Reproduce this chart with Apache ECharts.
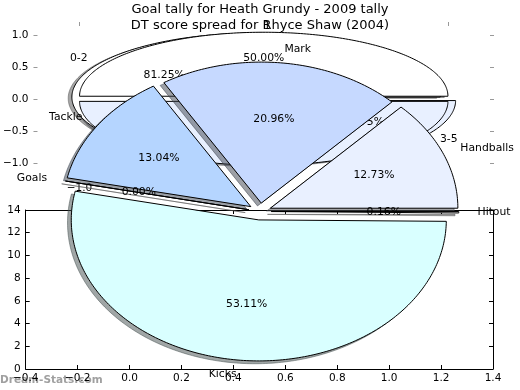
<!DOCTYPE html>
<html><head><meta charset="utf-8">
<script src="https://cdn.jsdelivr.net/npm/echarts@6/dist/echarts.min.js"></script>
<style>html,body{margin:0;padding:0;background:#fff}#c{width:520px;height:390px}</style>
</head><body><div id="c"></div>
<script>
// ---- data ----
const titleTop = 'Goal tally for Heath Grundy - 2009 tally';
const titleBottom = 'DT score spread for Rhyce Shaw (2004)';
const goalLabels = ['0-2', '3-5'];
const goalValues = [81.25, 18.75];
const tallyLabels = ['1', '2'];
const tallyValues = [50, 50];
const dtLabels = ['Handballs', 'Mark', 'Tackle', 'Goals', 'Kicks', 'Hitout'];
const dtValues = [12.73, 20.96, 13.04, 0.00, 53.11, 0.16];
const topTicks = [-1.0, -0.5, 0.0, 0.5, 1.0];
const topEdgeTicks = [-1.0, 1.0];
const watermark = 'Dream-Stats.com';

// ---- styles ----
const goalColors = ['#ffffff', '#e8f0ff'];
const tallyColors = ['#ffffff', '#e8f0ff'];
const dtColors = ['#e9f0ff', '#c6d9ff', '#b5d5ff', '#ffffff', '#d9ffff', '#ffffff'];
const goalExplode = [0.05, 0.05];
const tallyExplode = [0.04, 0.04];
const dtExplode = [0.06, 0.06, 0.06, 0.06, 0.06, 0.06];
const FF = '"DejaVu Sans", sans-serif';
const FONT = '10.8px ' + FF;

function fmt(v) { const s = Math.abs(v).toFixed(1); return v < -1e-9 ? '\u2212' + s : s; }
function shade(hex) {
  const n = parseInt(hex.slice(1), 16);
  const r = (n >> 16) & 255, g = (n >> 8) & 255, b = n & 255;
  return 'rgba(' + Math.round(r * 0.3) + ',' + Math.round(g * 0.3) + ',' + Math.round(b * 0.3) + ',0.5)';
}
function wedges(values) {
  const total = values.reduce((a, b) => a + b, 0);
  let acc = 0;
  return values.map(v => { const s = acc / total; acc += v; return [s, acc / total, v / total * 100]; });
}

function pieSeries(o) {
  return {
    type: 'custom', coordinateSystem: 'cartesian2d', xAxisIndex: o.axis, yAxisIndex: o.axis,
    z: o.z, clip: false, silent: true, animation: false,
    data: wedges(o.values),
    renderItem: function (params, api) {
      const i = params.dataIndex;
      const t1 = api.value(0) * 2 * Math.PI, t2 = api.value(1) * 2 * Math.PI, tm = (t1 + t2) / 2;
      const e = o.explode[i];
      const cx = e * Math.cos(tm), cy = e * Math.sin(tm);
      if (o.mode === 'text') {
        const xt = cx + 1.1 * Math.cos(tm), yt = cy + 1.1 * Math.sin(tm);
        const lp = api.coord([xt, yt]);
        const pp = api.coord([cx + 0.6 * Math.cos(tm), cy + 0.6 * Math.sin(tm)]);
        const al = xt > 0 ? 'left' : 'right';
        return { type: 'group', children: [
          { type: 'text', x: lp[0], y: lp[1], style: { text: o.labels[i], font: FONT, fill: '#000', align: al, textAlign: al, verticalAlign: 'middle', textVerticalAlign: 'middle' } },
          { type: 'text', x: pp[0], y: pp[1], style: { text: api.value(2).toFixed(2) + '%', font: FONT, fill: '#000', align: 'center', textAlign: 'center', verticalAlign: 'middle', textVerticalAlign: 'middle' } }
        ] };
      }
      const sh = o.mode === 'shadow';
      const ox = sh ? -0.02 : 0, oy = sh ? -0.02 : 0;
      const pts = [api.coord([cx + ox, cy + oy])];
      const n = Math.max(2, Math.ceil((t2 - t1) / (Math.PI / 180)) + 1);
      for (let k = 0; k <= n; k++) {
        const t = t1 + (t2 - t1) * k / n;
        pts.push(api.coord([cx + ox + Math.cos(t), cy + oy + Math.sin(t)]));
      }
      const col = o.colors[i];
      return { type: 'polygon', shape: { points: pts },
        style: sh ? { fill: shade(col), stroke: shade(col), lineWidth: 1 } : { fill: col, stroke: '#000', lineWidth: 1 } };
    }
  };
}

const tickLab = { fontFamily: FF, fontSize: 10.5, color: '#000' };
const noLine = { show: false, onZero: false };
const blackLine = { show: true, onZero: false, lineStyle: { color: '#000', width: 1 } };
const chart = echarts.init(document.getElementById('c'), null, { renderer: 'canvas' });
chart.setOption({
  animation: false,
  grid: [
    { left: 25, top: 22, width: 469, height: 153.6 },
    { left: 25.7, top: 210, width: 467.3, height: 159 },
    { left: 25.6, top: 42.3, width: 468.8, height: 338.4 }
  ],
  xAxis: [
    { gridIndex: 0, type: 'value', min: -1.25, max: 1.25, axisLine: noLine, splitLine: { show: false },
      axisTick: { inside: true, length: 4, customValues: topTicks, lineStyle: { color: '#999' } },
      axisLabel: Object.assign({ customValues: topTicks, formatter: fmt, margin: 7 }, tickLab) },
    { gridIndex: 0, type: 'value', position: 'top', min: -1.25, max: 1.25, axisLine: noLine, splitLine: { show: false },
      axisTick: { inside: true, length: 4, customValues: topEdgeTicks, lineStyle: { color: '#999' } }, axisLabel: { show: false } },
    { gridIndex: 1, type: 'value', min: -0.4, max: 1.4, interval: 0.2, splitLine: { show: false },
      axisLine: blackLine,
      axisTick: { inside: true, length: 4, lineStyle: { color: '#000' } },
      axisLabel: Object.assign({ formatter: fmt, margin: 4 }, tickLab) },
    { gridIndex: 1, type: 'value', position: 'top', min: -0.4, max: 1.4, interval: 0.2, splitLine: { show: false },
      axisLine: blackLine,
      axisTick: { inside: true, length: 4, lineStyle: { color: '#000' } }, axisLabel: { show: false } },
    { gridIndex: 2, type: 'value', min: -1.25, max: 1.25, show: false }
  ],
  yAxis: [
    { gridIndex: 0, type: 'value', min: -1.2, max: 1.2, axisLine: noLine, splitLine: { show: false },
      axisTick: { inside: true, length: 4, customValues: topTicks, lineStyle: { color: '#999' } },
      axisLabel: Object.assign({ customValues: topTicks, formatter: fmt, margin: 5 }, tickLab) },
    { gridIndex: 0, type: 'value', position: 'right', min: -1.2, max: 1.2, axisLine: noLine, splitLine: { show: false },
      axisTick: { inside: true, length: 4, customValues: topTicks, lineStyle: { color: '#999' } }, axisLabel: { show: false } },
    { gridIndex: 1, type: 'value', min: 0, max: 14, interval: 2, splitLine: { show: false },
      axisLine: blackLine,
      axisTick: { inside: true, length: 4, lineStyle: { color: '#000' } },
      axisLabel: Object.assign({ formatter: v => String(v), margin: 5 }, tickLab) },
    { gridIndex: 1, type: 'value', position: 'right', min: 0, max: 14, interval: 2, splitLine: { show: false },
      axisLine: blackLine,
      axisTick: { inside: true, length: 4, lineStyle: { color: '#000' } }, axisLabel: { show: false } },
    { gridIndex: 2, type: 'value', min: -1.2, max: 1.2, show: false }
  ],
  graphic: [
    { type: 'text', x: 260, y: 10, z: 1, style: { text: titleTop, font: '13px ' + FF, fill: '#000', align: 'center', verticalAlign: 'middle' } },
    { type: 'text', x: 260, y: 26, z: 1, style: { text: titleBottom, font: '13px ' + FF, fill: '#000', align: 'center', verticalAlign: 'middle' } },
    { type: 'text', x: 0, y: 380, z: 0, style: { text: watermark, font: 'bold 10.5px ' + FF, fill: '#a0a0a0', align: 'left', verticalAlign: 'middle' } }
  ],
  series: [
    pieSeries({ axis: 0, values: goalValues, colors: goalColors, explode: goalExplode, z: 1, mode: 'shadow' }),
    pieSeries({ axis: 0, values: tallyValues, colors: tallyColors, explode: tallyExplode, z: 1, mode: 'shadow' }),
    pieSeries({ axis: 0, values: goalValues, colors: goalColors, explode: goalExplode, z: 2, mode: 'wedge' }),
    pieSeries({ axis: 0, values: tallyValues, colors: tallyColors, explode: tallyExplode, z: 3, mode: 'wedge' }),
    pieSeries({ axis: 0, values: goalValues, labels: goalLabels, explode: goalExplode, z: 4, mode: 'text' }),
    pieSeries({ axis: 0, values: tallyValues, labels: tallyLabels, explode: tallyExplode, z: 4, mode: 'text' }),
    pieSeries({ axis: 4, values: dtValues, colors: dtColors, explode: dtExplode, z: 5, mode: 'shadow' }),
    pieSeries({ axis: 4, values: dtValues, colors: dtColors, explode: dtExplode, z: 6, mode: 'wedge' }),
    pieSeries({ axis: 4, values: dtValues, labels: dtLabels, explode: dtExplode, z: 7, mode: 'text' })
  ]
});
</script></body></html>
